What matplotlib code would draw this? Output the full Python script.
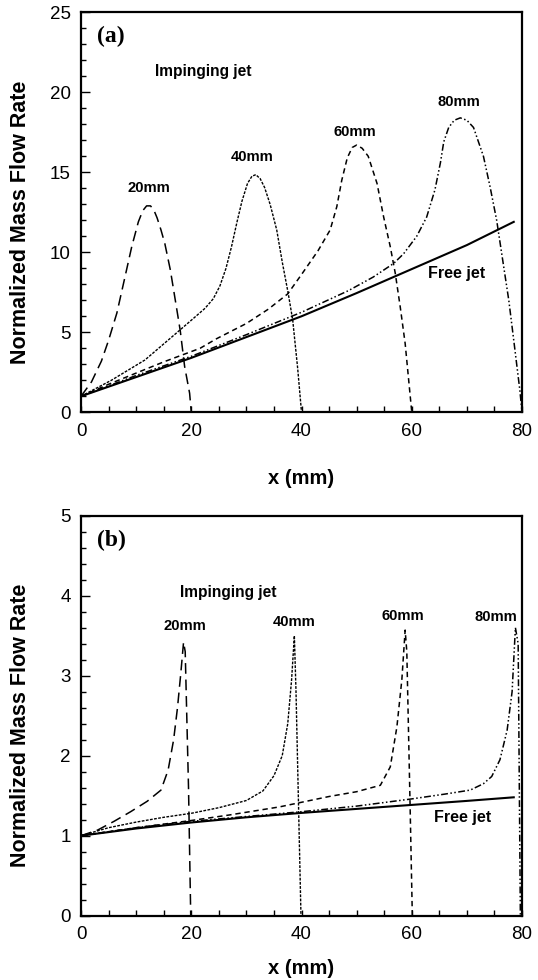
import numpy as np
import matplotlib
matplotlib.use('Agg')
import matplotlib.pyplot as plt

plt.rcParams['font.family'] = ['Liberation Sans', 'DejaVu Sans']

# ---- panel (a) data ----
xa_free = [0, 10, 20, 30, 40, 50, 60, 70, 78.5]
ya_free = [1, 2.2, 3.4, 4.7, 6.0, 7.45, 8.95, 10.45, 11.9]

xa_20 = [0, 1.9, 3.7, 5.0, 6.5, 8.0, 9.2, 10.4, 11.2, 11.9, 12.6, 13.2, 13.8, 14.5, 15.2, 16.2, 17.2, 18.0, 18.8, 19.7, 20.0]
ya_20 = [1, 1.9, 3.2, 4.5, 6.2, 8.5, 10.35, 11.9, 12.6, 12.9, 12.9, 12.65, 12.15, 11.4, 10.55, 8.9, 6.8, 5.1, 2.85, 1.19, 0]

xa_40 = [0, 5.5, 11.6, 17.6, 20.5, 22.5, 24, 25.2, 26.3, 27.3, 28.3, 29.2, 30.2, 31.0, 31.7, 32.5, 33.3, 34.3, 35.5, 36.5, 37.6, 38.4, 39.3, 40.0]
ya_40 = [1, 2.0, 3.27, 5.04, 5.9, 6.5, 7.1, 7.9, 9.0, 10.35, 11.9, 13.2, 14.3, 14.75, 14.85, 14.6, 14.05, 13.0, 11.4, 9.4, 7.4, 5.77, 2.75, 0]

xa_60 = [0, 5, 10, 15, 21.6, 24.6, 30, 34, 37.5, 40.1, 43, 45.2, 46.4, 47.3, 48.3, 49.2, 50.0, 51.0, 52.1, 53.7, 54.9, 56.1, 57.0, 57.9, 58.8, 60.0]
ya_60 = [1, 1.75, 2.45, 3.15, 4.0, 4.6, 5.55, 6.45, 7.4, 8.66, 10.1, 11.4, 12.85, 14.5, 15.9, 16.55, 16.7, 16.5, 16.0, 14.3, 12.2, 10.35, 8.7, 6.6, 4.3, 0]

xa_80 = [0, 10, 20, 30, 40, 48.5, 53, 56.7, 58.5, 60.9, 62.7, 64.2, 65.2, 65.8, 66.7, 67.7, 68.8, 70.0, 71.2, 73.0, 74.2, 75.4, 76.5, 77.6, 78.5, 79.6, 80.0]
ya_80 = [1, 2.3, 3.5, 4.85, 6.25, 7.6, 8.45, 9.3, 9.9, 11.0, 12.2, 13.9, 15.6, 16.9, 17.8, 18.25, 18.4, 18.25, 17.8, 16.0, 14.1, 12.0, 9.5, 7.0, 4.5, 1.4, 0]

# ---- panel (b) data ----
xb_free = [0, 10, 20, 30, 40, 50, 60, 70, 78.5]
yb_free = [1, 1.09, 1.165, 1.23, 1.285, 1.335, 1.385, 1.435, 1.48]

xb_20 = [0, 3, 6, 9, 12, 14.5, 15.8, 16.8, 17.5, 18.1, 18.6, 18.9, 19.5, 19.9]
yb_20 = [1, 1.07, 1.18, 1.3, 1.43, 1.57, 1.82, 2.2, 2.6, 3.03, 3.42, 3.3, 1.6, 0]

xb_40 = [0, 5, 10, 15, 20, 25, 30, 33, 35, 36.5, 37.5, 38.2, 38.7, 39.0, 39.9]
yb_40 = [1, 1.1, 1.17, 1.23, 1.28, 1.35, 1.44, 1.56, 1.75, 2.0, 2.4, 2.95, 3.5, 2.8, 0]

xb_60 = [0, 10, 20, 27, 36, 45, 50, 54.3, 56.1, 57.3, 58.2, 58.8, 59.1, 59.7, 60.1]
yb_60 = [1, 1.1, 1.19, 1.26, 1.36, 1.49, 1.55, 1.63, 1.86, 2.36, 2.95, 3.57, 3.3, 1.36, 0]

xb_80 = [0, 10, 20, 30, 40, 50, 60, 66, 70.6, 73, 74.5, 76, 77.3, 78.2, 78.8, 79.3, 79.7]
yb_80 = [1, 1.1, 1.18, 1.24, 1.30, 1.37, 1.46, 1.52, 1.57, 1.65, 1.74, 1.95, 2.32, 2.8, 3.6, 3.4, 0]

curve_labels = ['20mm', '40mm', '60mm', '80mm']

fig = plt.figure(figsize=(5.38, 9.8), dpi=100)
ax_a = fig.add_axes([0.1506, 0.5793, 0.8197, 0.4082])
ax_b = fig.add_axes([0.1506, 0.0656, 0.8197, 0.4082])

styles = {
    'free': dict(color='black', lw=1.5, ls='-'),
    '20': dict(color='black', lw=1.1, dashes=(7, 3.8)),
    '40': dict(color='black', lw=1.0, dashes=(2.0, 1.0)),
    '60': dict(color='black', lw=1.1, dashes=(3.5, 2.5)),
    '80': dict(color='black', lw=1.1, dashes=(4.5, 1.6, 1.0, 1.6, 1.0, 1.6)),
}

ax_a.plot(xa_free, ya_free, **styles['free'])
ax_a.plot(xa_20, ya_20, **styles['20'])
ax_a.plot(xa_40, ya_40, **styles['40'])
ax_a.plot(xa_60, ya_60, **styles['60'])
ax_a.plot(xa_80, ya_80, **styles['80'])

ax_b.plot(xb_free, yb_free, **styles['free'])
ax_b.plot(xb_20, yb_20, **styles['20'])
ax_b.plot(xb_40, yb_40, **styles['40'])
ax_b.plot(xb_60, yb_60, **styles['60'])
ax_b.plot(xb_80, yb_80, **styles['80'])

for ax, ymax, major, minor, xlab_y in [(ax_a, 25, 5, 1, -0.166), (ax_b, 5, 1, 0.2, -0.132)]:
    ax.set_xlim(0, 80)
    ax.set_ylim(0, ymax)
    ax.set_xticks(np.arange(0, 81, 20))
    ax.set_xticks(np.arange(0, 81, 5), minor=True)
    ax.set_yticks(np.arange(0, ymax + 0.01, major))
    ax.set_yticks(np.arange(0, ymax + 0.01, minor), minor=True)
    ax.tick_params(which='both', direction='in', top=False, right=False,
                   labelsize=13.5, pad=7.5, width=1.0)
    ax.tick_params(axis='y', which='major', length=6.5)
    ax.tick_params(axis='y', which='minor', length=3.8)
    ax.tick_params(axis='x', which='both', length=4.2)
    for sp in ax.spines.values():
        sp.set_linewidth(1.6)
    ax.set_xlabel('x (mm)', fontsize=14.5, fontweight='bold')
    ax.set_ylabel('Normalized Mass Flow Rate', fontsize=15.5, fontweight='bold')
    ax.xaxis.set_label_coords(0.5, xlab_y)
    ax.yaxis.set_label_coords(-0.137, 0.475)
    ax.xaxis.label.set_va('center')
    ax.yaxis.label.set_va('center')

# panel (a) annotations
ax_a.text(2.85, 23.5, '(a)', family='Liberation Serif', fontweight='bold', fontsize=17, va='center')
ax_a.text(13.4, 21.02, 'Impinging jet', fontsize=11.2, fontweight='bold', va='baseline')
for lab, x, y in zip(curve_labels, [12.3, 31.1, 49.6, 68.5], [13.79, 15.73, 17.27, 19.14]):
    ax_a.text(x, y, lab, fontsize=10.6, fontweight='bold', ha='center', va='baseline')
ax_a.text(68.1, 8.41, 'Free jet', fontsize=11.5, fontweight='bold', ha='center', va='baseline')

# panel (b) annotations
ax_b.text(2.85, 4.69, '(b)', family='Liberation Serif', fontweight='bold', fontsize=17, va='center')
ax_b.text(18.0, 3.98, 'Impinging jet', fontsize=11.2, fontweight='bold', va='baseline')
for lab, x, y in zip(curve_labels, [18.8, 38.6, 58.4, 75.3], [3.57, 3.62, 3.70, 3.68]):
    ax_b.text(x, y, lab, fontsize=10.6, fontweight='bold', ha='center', va='baseline')
ax_b.text(69.2, 1.175, 'Free jet', fontsize=11.5, fontweight='bold', ha='center', va='baseline')

fig.savefig('out.png', dpi=100)
